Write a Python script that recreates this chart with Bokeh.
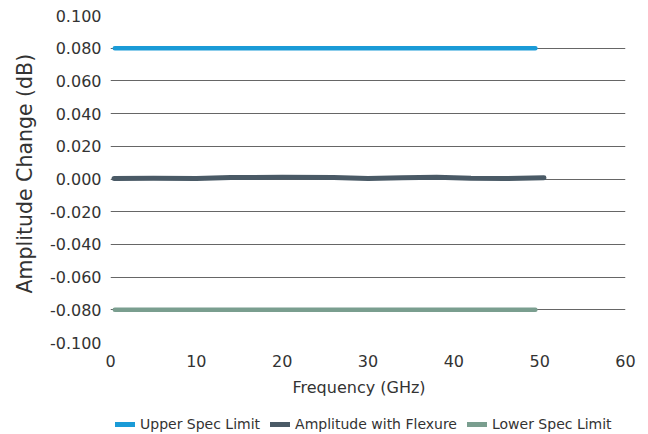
from bokeh.plotting import figure
from bokeh.layouts import column
from bokeh.models import Legend, LegendItem, NumeralTickFormatter, FixedTicker, Range1d, Title
from bokeh.embed import file_html
from bokeh.resources import INLINE

# Data
spec_freq = [0.5, 49.5]
upper_spec = [0.080, 0.080]
lower_spec = [-0.080, -0.080]
amp_freq = [0.4, 5, 10, 14, 20, 26, 30, 34, 38, 42, 46, 50.5]
amp_vals = [0.0003, 0.0004, 0.0003, 0.0009, 0.0010, 0.0009, 0.0003, 0.0008, 0.0011, 0.0004, 0.0003, 0.0007]
x_ticks = [0, 10, 20, 30, 40, 50, 60]
y_ticks = [-0.1, -0.08, -0.06, -0.04, -0.02, 0.0, 0.02, 0.04, 0.06, 0.08, 0.1]
series_names = ["Upper Spec Limit", "Amplitude with Flexure", "Lower Spec Limit"]
series_colors = ["#1a9bd7", "#4a5a66", "#7a9e8f"]
x_title = "Frequency (GHz)"
y_title = "Amplitude Change (dB)"

FONT = "DejaVu Sans"
TXT = "#333333"

p = figure(width=648, height=404, output_backend="svg", toolbar_location=None,
           x_range=Range1d(0, 60), y_range=Range1d(-0.1, 0.1),
           min_border_left=110, min_border_right=23, min_border_top=15, min_border_bottom=62)
p.outline_line_color = None

p.line(spec_freq, upper_spec, line_color=series_colors[0], line_width=4.5, line_cap="round")
p.line(amp_freq, amp_vals, line_color=series_colors[1], line_width=5, line_cap="round", line_join="round")
p.line(spec_freq, lower_spec, line_color=series_colors[2], line_width=4.5, line_cap="round")

p.xgrid.visible = False
p.ygrid.ticker = FixedTicker(ticks=y_ticks)
p.ygrid.grid_line_color = "#666666"
p.ygrid.grid_line_width = 1
p.ygrid.level = "underlay"

p.xaxis.ticker = FixedTicker(ticks=x_ticks)
p.yaxis.ticker = FixedTicker(ticks=y_ticks)
p.yaxis.formatter = NumeralTickFormatter(format="0.000")
for ax in (p.xaxis[0], p.yaxis[0]):
    ax.axis_line_color = None
    ax.major_tick_line_color = None
    ax.minor_tick_line_color = None
    ax.major_label_text_font = FONT
    ax.major_label_text_font_size = "16px"
    ax.major_label_text_color = TXT
p.xaxis.major_label_standoff = 6
p.yaxis.major_label_standoff = 3

ty = Title(text=y_title, align="left", offset=49, standoff=19,
           text_font=FONT, text_font_size="20.5px", text_font_style="normal", text_color=TXT)
p.add_layout(ty, "left")
tx = Title(text=x_title, align="left", offset=182, standoff=12,
           text_font=FONT, text_font_size="16px", text_font_style="normal", text_color=TXT)
p.add_layout(tx, "below")

# Legend strip below the chart
lg = figure(width=648, height=30, output_backend="svg", toolbar_location=None,
            x_range=Range1d(0, 1), y_range=Range1d(0, 1),
            x_axis_type=None, y_axis_type=None,
            min_border_left=0, min_border_right=0, min_border_top=0, min_border_bottom=0)
lg.grid.visible = False
lg.outline_line_color = None
items = []
for name, col in zip(series_names, series_colors):
    r = lg.line([float("nan")], [float("nan")], line_color=col, line_width=5, line_cap="round")
    items.append(LegendItem(label=name, renderers=[r]))
legend = Legend(items=items, orientation="horizontal", location=(5, 0))
legend.label_text_font = FONT
legend.label_text_font_size = "14px"
legend.label_text_color = TXT
legend.glyph_width = 20
legend.glyph_height = 20
legend.label_height = 20
legend.label_standoff = 5
legend.spacing = 10
legend.border_line_color = None
legend.background_fill_alpha = 0
legend.margin = 0
legend.padding = 0
lg.add_layout(legend, "center")

layout = column(p, lg, spacing=0)
open("out.html", "w").write(file_html(layout, INLINE))
